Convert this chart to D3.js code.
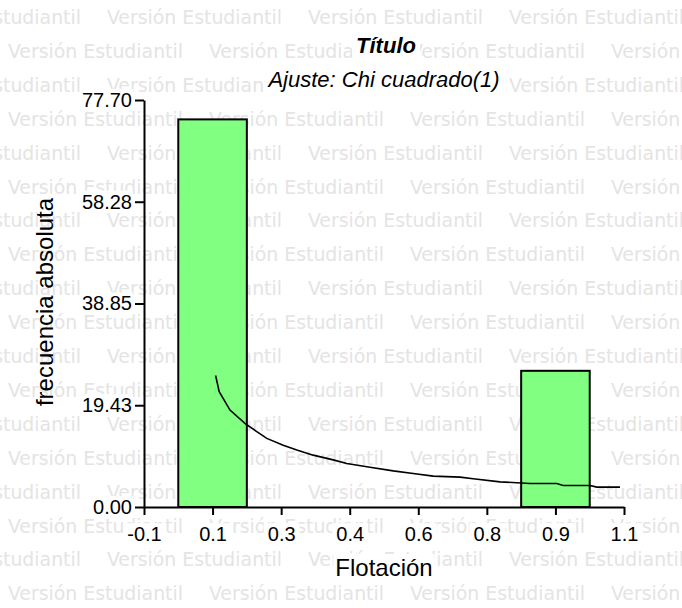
<!DOCTYPE html>
<html>
<head>
<meta charset="utf-8">
<script src="https://cdn.jsdelivr.net/npm/d3@7"></script>
<style>
  body { margin: 0; background: #fff; }
  svg { display: block; }
</style>
</head>
<body>
<div id="chart"></div>
<script>
// values
var yTicks = [0, 19.43, 38.85, 58.28, 77.70]
var xTickValues = [-0.1, 0.0714, 0.2429, 0.4143, 0.5857, 0.7571, 0.9286, 1.1]
var xTickLabels = ["-0.1", "0.1", "0.3", "0.4", "0.6", "0.8", "0.9", "1.1"]

var binCenters = [0.0714, 0.9286]
var binWidth = 0.1714
var counts = [74, 26]

// fitted chi-square curve
var fitX = [0.079, 0.088, 0.115, 0.153, 0.182, 0.207, 0.248, 0.282, 0.323, 0.373, 0.407, 0.465,
            0.523, 0.573, 0.623, 0.69, 0.723, 0.79, 0.865, 0.932, 0.948, 1.015, 1.032, 1.09]
var fitY = [25.1, 22.0, 18.5, 15.9, 14.4, 13.1, 11.8, 10.9, 9.9, 9.0, 8.3, 7.6,
            6.9, 6.4, 5.9, 5.7, 5.4, 4.8, 4.5, 4.5, 4.1, 4.1, 3.8, 3.8]

var width = 682, height = 608
var font = "'Liberation Sans', Arial, sans-serif"

var svg = d3.select("#chart")
  .append("svg")
  .attr("width", width)
  .attr("height", height)

svg.append("rect").attr("width", width).attr("height", height).attr("fill", "#fff")

// watermark rows
var wm = svg.append("g")
for (var i = 0; i < 19; i++) {
  var y0 = 24 + 33.9 * i
  var start = (i % 2 == 0 ? 107 : 8) - 201
  for (var x0 = start; x0 < width; x0 += 201) {
    wm.append("text")
      .attr("x", x0)
      .attr("y", y0)
      .attr("textLength", 175)
      .attr("lengthAdjust", "spacingAndGlyphs")
      .style("font-family", "'DejaVu Sans Condensed', 'DejaVu Sans', sans-serif")
      .style("font-size", "20px")
      .attr("fill", "#e4e4e4")
      .text("Versión Estudiantil")
  }
}

// bit of black glyph cut at the top edge
svg.append("text").attr("x", 35).attr("y", -2)
  .style("font-family", font).style("font-size", "20px").text("g")

var x = d3.scaleLinear().domain([-0.1, 1.1]).range([144, 624])
var y = d3.scaleLinear().domain([0, 77.7]).range([507, 100])

// white box behind a text so the watermark is hidden there
function addBg(sel, px, py) {
  sel.each(function() {
    var b = this.getBBox()
    d3.select(this.parentNode).insert("rect", function() { return this }.bind(this))
      .attr("x", b.x - px).attr("y", b.y - py)
      .attr("width", b.width + 2 * px).attr("height", b.height + 2 * py)
      .attr("fill", "#fff")
  })
}

// bars
svg.selectAll("rect.bar")
  .data(counts)
  .enter()
  .append("rect")
    .attr("class", "bar")
    .attr("x", function(d, i) { return x(binCenters[i] - binWidth / 2) })
    .attr("width", function(d, i) { return x(binCenters[i] + binWidth / 2) - x(binCenters[i] - binWidth / 2) })
    .attr("y", function(d) { return y(d) })
    .attr("height", function(d) { return y(0) - y(d) })
    .attr("fill", "#80ff80")
    .attr("stroke", "#000")
    .attr("stroke-width", 2)

// fitted curve
var line = d3.line()
  .x(function(d, i) { return x(fitX[i]) })
  .y(function(d) { return y(d) })

svg.append("path")
  .datum(fitY)
  .attr("d", line)
  .attr("fill", "none")
  .attr("stroke", "#000")
  .attr("stroke-width", 1.6)

// axes
var yAxis = svg.append("g")
  .attr("transform", "translate(144,0)")
  .call(d3.axisLeft(y).tickValues(yTicks).tickFormat(d3.format(".2f")).tickSize(9).tickSizeOuter(0).tickPadding(3))

var xAxis = svg.append("g")
  .attr("transform", "translate(0,507)")
  .call(d3.axisBottom(x).tickValues(xTickValues).tickFormat(function(d, i) { return xTickLabels[i] })
    .tickSize(8).tickSizeOuter(0).tickPadding(12))

;[yAxis, xAxis].forEach(function(a) {
  a.select(".domain").attr("stroke", "#000").attr("stroke-width", 2)
  a.selectAll(".tick line").attr("stroke", "#000").attr("stroke-width", 2)
  a.selectAll(".tick text").style("font-family", font).style("font-size", "20px").attr("fill", "#000")
})
addBg(yAxis.selectAll(".tick text"), 1, 0)
addBg(xAxis.selectAll(".tick text"), 4, 0)

// axis titles
var ylab = svg.append("text")
  .attr("transform", "translate(53,302) rotate(-90)")
  .attr("text-anchor", "middle")
  .style("font-family", font)
  .style("font-size", "24px")
  .text("frecuencia absoluta")
addBg(ylab, 1, 0)

var xlab = svg.append("text")
  .attr("x", 384)
  .attr("y", 576)
  .attr("text-anchor", "middle")
  .style("font-family", font)
  .style("font-size", "24px")
  .text("Flotación")
addBg(xlab, 2, 0)

// titles
var title = svg.append("text")
  .attr("x", 386)
  .attr("y", 53)
  .attr("text-anchor", "middle")
  .style("font-family", font)
  .style("font-size", "22px")
  .style("font-weight", "bold")
  .style("font-style", "italic")
  .text("Título")
addBg(title, 4, 0)

var sub = svg.append("text")
  .attr("x", 384)
  .attr("y", 87)
  .attr("text-anchor", "middle")
  .style("font-family", font)
  .style("font-size", "22px")
  .style("font-style", "italic")
  .text("Ajuste: Chi cuadrado(1)")
addBg(sub, 2, 0)
</script>
</body>
</html>
